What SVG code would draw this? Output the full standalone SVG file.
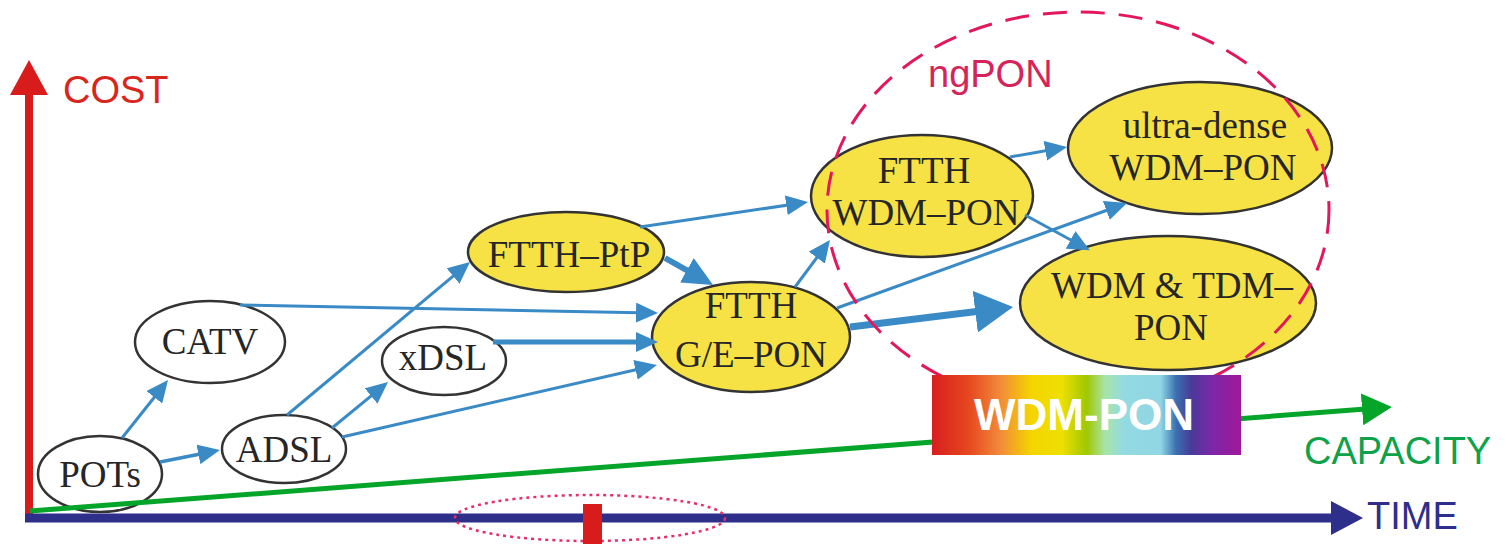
<svg xmlns="http://www.w3.org/2000/svg" width="1509" height="544" viewBox="0 0 1509 544">
<style>
.node{stroke:#333;stroke-width:2.5}
.white{fill:#fff}
.yellow{fill:#f6e244}
.nt{font-family:"Liberation Serif","Times New Roman",serif;font-size:37px;fill:#262626;text-anchor:middle}
.ax{font-family:"Liberation Sans",Arial,sans-serif;font-size:38px}
.c{fill:none;stroke:#3a8ac6;stroke-width:3}
</style>
<defs>
<linearGradient id="rainbow" x1="0" y1="0" x2="1" y2="0">
<stop offset="0" stop-color="#d81e1e"/>
<stop offset="0.12" stop-color="#e6481f"/>
<stop offset="0.22" stop-color="#f28a3a"/>
<stop offset="0.32" stop-color="#f5d400"/>
<stop offset="0.42" stop-color="#ede000"/>
<stop offset="0.5" stop-color="#a0c800"/>
<stop offset="0.56" stop-color="#a8e4a8"/>
<stop offset="0.62" stop-color="#94dae2"/>
<stop offset="0.74" stop-color="#90d6e4"/>
<stop offset="0.79" stop-color="#3a70b0"/>
<stop offset="0.84" stop-color="#4a3a98"/>
<stop offset="0.9" stop-color="#7a28a8"/>
<stop offset="1" stop-color="#a0189a"/>
</linearGradient>
<marker id="ah" markerUnits="userSpaceOnUse" markerWidth="22" markerHeight="20" refX="16" refY="10" orient="auto"><path d="M0,0 L22,10 L0,20 z" fill="#3a8ac6"/></marker>
<marker id="ahm" markerUnits="userSpaceOnUse" markerWidth="30" markerHeight="28" refX="20" refY="14" orient="auto"><path d="M0,0 L30,14 L0,28 z" fill="#3a8ac6"/></marker>
<marker id="ahl" markerUnits="userSpaceOnUse" markerWidth="38" markerHeight="42" refX="22" refY="21" orient="auto"><path d="M0,0 L38,21 L0,42 z" fill="#3a8ac6"/></marker>
<marker id="ahg" markerUnits="userSpaceOnUse" markerWidth="30" markerHeight="32" refX="20" refY="16" orient="auto"><path d="M0,0 L30,16 L0,32 z" fill="#05a52a"/></marker>
<marker id="ahb" markerUnits="userSpaceOnUse" markerWidth="32" markerHeight="34" refX="20" refY="17" orient="auto"><path d="M0,0 L32,17 L0,34 z" fill="#2e2f8a"/></marker>
<marker id="ahr" markerUnits="userSpaceOnUse" markerWidth="35" markerHeight="38" refX="20" refY="19" orient="auto"><path d="M0,0 L35,19 L0,38 z" fill="#d81c1c"/></marker>
</defs>
<rect width="1509" height="544" fill="#fff"/>

<g id="nodes">
<g id="pots"><ellipse class="node white" cx="100" cy="474" rx="62" ry="38"/><text class="nt" x="100" y="487">POTs</text></g>
<g id="catv"><ellipse class="node white" cx="210" cy="342" rx="75" ry="41"/><text class="nt" x="210" y="354">CATV</text></g>
<g id="adsl"><ellipse class="node white" cx="284" cy="449" rx="62" ry="34"/><text class="nt" x="284" y="462">ADSL</text></g>
<g id="xdsl"><ellipse class="node white" cx="444" cy="361" rx="62" ry="34"/><text class="nt" x="443" y="370">xDSL</text></g>
<g id="ptp"><ellipse class="node yellow" cx="566" cy="252" rx="98" ry="40"/><text class="nt" x="569" y="267">FTTH–PtP</text></g>
<g id="gepon"><ellipse class="node yellow" cx="751" cy="337" rx="99" ry="55"/><text class="nt" x="751" y="318">FTTH</text><text class="nt" x="751" y="367">G/E–PON</text></g>
<g id="wdmpon"><ellipse class="node yellow" cx="922" cy="196" rx="111" ry="61"/><text class="nt" x="924" y="183">FTTH</text><text class="nt" x="926" y="225">WDM–PON</text></g>
<g id="ultra"><ellipse class="node yellow" cx="1200" cy="148" rx="132" ry="66"/><text class="nt" x="1205" y="138">ultra-dense</text><text class="nt" x="1203" y="180">WDM–PON</text></g>
<g id="wdmtdm"><ellipse class="node yellow" cx="1168" cy="303" rx="148" ry="67"/><text class="nt" x="1172" y="298">WDM &amp; TDM–</text><text class="nt" x="1171" y="340">PON</text></g>
</g>

<g id="connectors">
<path class="c" d="M122,438 L164.3,384.7" marker-end="url(#ah)"/>
<path class="c" d="M160,462 L214.1,451.2" style="stroke-width:3.5" marker-end="url(#ah)"/>
<path class="c" d="M287,415 L465.4,265.8" marker-end="url(#ah)"/>
<path class="c" d="M332,428 L383.4,385.8" marker-end="url(#ah)"/>
<path class="c" d="M342,437 L651.1,366.3" marker-end="url(#ah)"/>
<path class="c" d="M240,305 L652,312.9" marker-end="url(#ah)"/>
<path class="c" d="M493,342 L652,342" style="stroke-width:5" marker-end="url(#ah)"/>
<path class="c" d="M665,258 L704.3,280.1" style="stroke-width:6" marker-end="url(#ahm)"/>
<path class="c" d="M640,227 L802.1,202.9" marker-end="url(#ah)"/>
<path class="c" d="M795,287 L826.4,244.8" marker-end="url(#ah)"/>
<path class="c" d="M837,308 L1121.4,205" marker-end="url(#ah)"/>
<path class="c" d="M850,327 L997.1,309" style="stroke-width:7" marker-end="url(#ahl)"/>
<path class="c" d="M1010,157 L1061.1,148" marker-end="url(#ah)"/>
<path class="c" d="M1025,215 L1084.6,247.5" marker-end="url(#ah)"/>
</g>

<g id="ngpon">
<ellipse cx="1078" cy="210" rx="251" ry="198" fill="none" stroke="#e3175c" stroke-width="3" stroke-dasharray="24 14"/>
<text class="ax" x="928" y="87" fill="#d6245a">ngPON</text>
</g>

<g id="axes">
<line x1="29" y1="518" x2="29" y2="75" stroke="#d81c1c" stroke-width="8" marker-end="url(#ahr)"/>
<line x1="30" y1="511" x2="1382" y2="407.8" stroke="#05a52a" stroke-width="5" marker-end="url(#ahg)"/>
<line x1="25" y1="518" x2="1351" y2="518" stroke="#2e2f8a" stroke-width="9" marker-end="url(#ahb)"/>
<ellipse cx="590" cy="518" rx="135" ry="23" fill="none" stroke="#e5306a" stroke-width="2.5" stroke-dasharray="3 4"/>
<rect x="583" y="504" width="19" height="40" fill="#d81c1c"/>
<text class="ax" x="63" y="103" fill="#d9261c">COST</text>
<text class="ax" x="1304" y="464" fill="#0ea24a">CAPACITY</text>
<text class="ax" x="1367" y="529" fill="#2e2f8a">TIME</text>
</g>

<g id="wdm-box">
<rect x="932" y="375" width="309" height="80" fill="url(#rainbow)"/>
<text x="1084" y="430" fill="#fff" font-family="'Liberation Sans',Arial,sans-serif" font-weight="bold" font-size="44" text-anchor="middle">WDM-PON</text>
</g>
</svg>
